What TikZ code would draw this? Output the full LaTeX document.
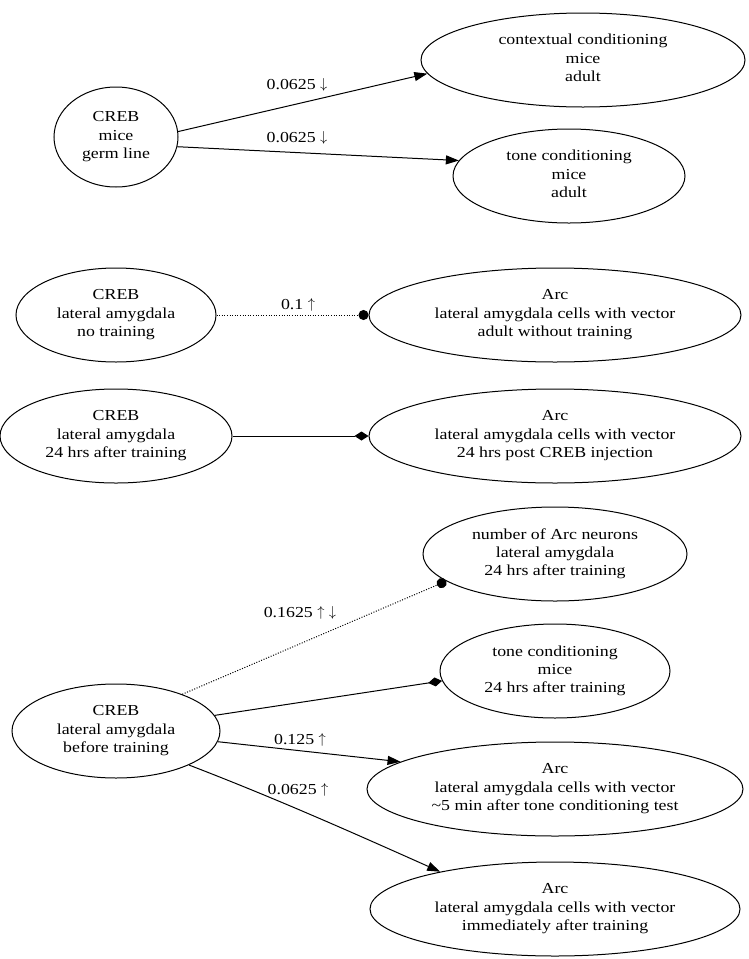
\documentclass[tikz,border=0pt]{standalone}
\usepackage{fontspec}
\setmainfont{Liberation Serif}[FakeStretch=1.17]
\usetikzlibrary{arrows.meta,shapes.geometric}
\newcommand{\upar}{\raisebox{0.1ex}{$\uparrow$}}
\newcommand{\dnar}{\raisebox{0.1ex}{$\downarrow$}}
\begin{document}
\begin{tikzpicture}[x=1pt,y=-1pt,
  every node/.style={font=\fontsize{15.25}{18.3}\selectfont},
  nd/.style={draw,ellipse,inner sep=0pt,align=center,line width=1pt,
    execute at begin node={\rule{0pt}{21pt}},
    execute at end node={\rule[-4pt]{0pt}{0pt}}},
  lbl/.style={inner sep=0pt},
  edg/.style={line width=1pt},
  arr/.style={edg,-{Triangle[length=13pt,width=9pt]}},
  dotedge/.style={edg,dash pattern=on 1pt off 1.6pt,-{Circle[length=10pt]}},
  diaedge/.style={edg,-{Diamond[length=14pt,width=9pt]}}]
\useasboundingbox (0,0) rectangle (748,959);

\node[nd,minimum width=124pt,minimum height=100pt] (n1) at (116,137) {CREB\\mice\\germ line};
\node[nd,minimum width=324pt,minimum height=94pt] (n2) at (583,60) {contextual conditioning\\mice\\adult};
\node[nd,minimum width=232pt,minimum height=94pt] (n3) at (569,176) {tone conditioning\\mice\\adult};
\node[nd,minimum width=200pt,minimum height=94pt] (n4) at (116,315) {CREB\\lateral amygdala\\no training};
\node[nd,minimum width=372pt,minimum height=94pt] (n5) at (555,315) {Arc\\lateral amygdala cells with vector\\adult without training};
\node[nd,minimum width=232pt,minimum height=94pt] (n6) at (116,436) {CREB\\lateral amygdala\\24 hrs after training};
\node[nd,minimum width=372pt,minimum height=94pt] (n7) at (555,436) {Arc\\lateral amygdala cells with vector\\24 hrs post CREB injection};
\node[nd,minimum width=264pt,minimum height=94pt] (n8) at (555,554) {number of Arc neurons\\lateral amygdala\\24 hrs after training};
\node[nd,minimum width=230pt,minimum height=94pt] (n9) at (555,671) {tone conditioning\\mice\\24 hrs after training};
\node[nd,minimum width=208pt,minimum height=94pt] (n10) at (116,731) {CREB\\lateral amygdala\\before training};
\node[nd,minimum width=376pt,minimum height=94pt] (n11) at (555,789) {Arc\\lateral amygdala cells with vector\\{\char"7E}5 min after tone conditioning test};
\node[nd,minimum width=370pt,minimum height=94pt] (n12) at (555,909) {Arc\\lateral amygdala cells with vector\\immediately after training};

\draw[arr] (n1.5) -- (n2.185);
\draw[arr] (n1.-9) -- (n3.172);
\draw[dotedge] (n4) -- (n5);
\draw[diaedge] (n6) -- (n7);
\draw[dotedge] (n10.29) -- (n8.194);
\draw[diaedge] (n10.9) -- (n9.185);
\draw[arr] (n10.-6) -- (n11.170);
\draw[arr] (n10.-25) .. controls (280,800) and (360,836) .. (n12.162);

\node[lbl] (l1) at (297,85) {0.0625 \dnar};
\node[lbl] (l2) at (297,138) {0.0625 \dnar};
\node[lbl] (l3) at (298,305) {0.1 \upar};
\node[lbl] (l4) at (300,613) {0.1625 \upar\ \dnar};
\node[lbl] (l5) at (300,740) {0.125 \upar};
\node[lbl] (l6) at (298,790) {0.0625 \upar};
\end{tikzpicture}
\end{document}
